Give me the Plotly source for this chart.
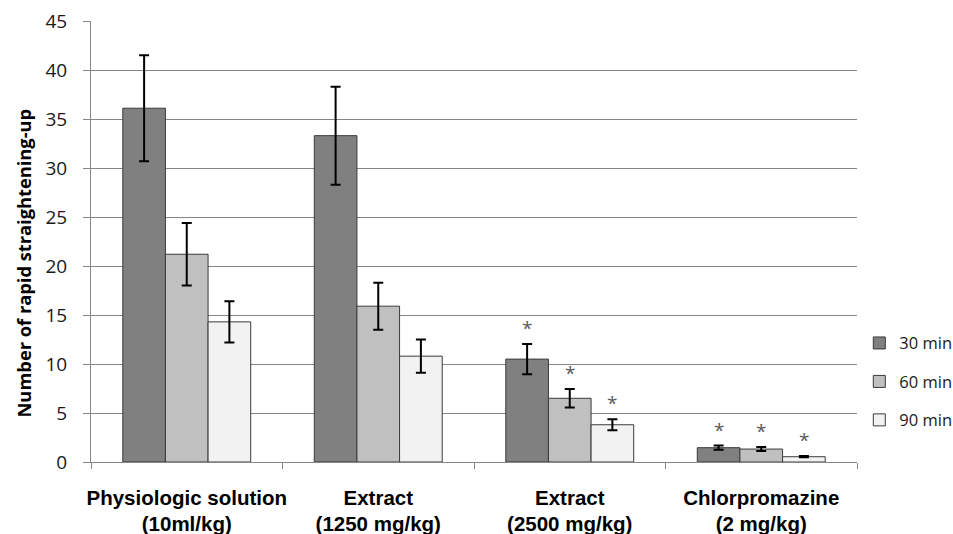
import plotly.graph_objects as go

# Treatment groups (two-line axis labels)
groups = [
    "Physiologic solution<br>(10ml/kg)",
    "Extract<br>(1250 mg/kg)",
    "Extract<br>(2500 mg/kg)",
    "Chlorpromazine<br>(2 mg/kg)",
]

# Mean number of rapid straightening-up at each time point
mean_30 = [36.1, 33.3, 10.5, 1.46]
mean_60 = [21.2, 15.9, 6.5, 1.32]
mean_90 = [14.3, 10.8, 3.8, 0.54]

# Error (SEM)
err_30 = [5.4, 5.0, 1.55, 0.22]
err_60 = [3.2, 2.4, 0.95, 0.2]
err_90 = [2.1, 1.7, 0.55, 0.06]

# Significance marks (True = "*")
sig_30 = [False, False, True, True]
sig_60 = [False, False, True, True]
sig_90 = [False, False, True, True]

series_names = ["30 min", "60 min", "90 min"]
series_colors = ["#808080", "#c0c0c0", "#f2f2f2"]

means = [mean_30, mean_60, mean_90]
errs = [err_30, err_60, err_90]
sigs = [sig_30, sig_60, sig_90]

y_title = "Number of rapid straightening-up"

TICK_FONT = "Open Sans"
LABEL_FONT = "Liberation Sans, Arial"

W, H = 953, 534
margin = dict(l=91, r=96, t=21, b=72, autoexpand=False)
bargap = 0.332

fig = go.Figure()
for i in range(3):
    fig.add_trace(go.Bar(
        x=groups,
        y=means[i],
        name=series_names[i],
        legendgroup=series_names[i],
        marker=dict(color=series_colors[i], line=dict(color="#3a3a3a", width=1)),
        error_y=dict(type="data", array=errs[i], visible=True,
                     color="black", thickness=2, width=5),
    ))

# Asterisks above the error bars of significant bars
plot_w = W - margin["l"] - margin["r"]
cat_w = plot_w / len(groups)
bar_w = cat_w * (1 - bargap) / 3
annotations = []
for i in range(3):
    for j, g in enumerate(groups):
        if sigs[i][j]:
            annotations.append(dict(
                x=g, y=means[i][j] + errs[i][j], xref="x", yref="y",
                text="*", showarrow=False,
                xshift=(i - 1) * bar_w, yshift=16,
                yanchor="middle",
                font=dict(family=TICK_FONT, size=19, color="#5a5a5a"),
            ))

# Vertical axis title
annotations.append(dict(
    x=0, y=0.5, xref="paper", yref="paper",
    xanchor="center", yanchor="middle",
    xshift=-68, yshift=-22, textangle=-90, showarrow=False,
    text=y_title,
    font=dict(family=TICK_FONT, size=18.3, color="black", weight="bold"),
))

fig.update_layout(
    width=W, height=H,
    margin=margin,
    paper_bgcolor="white",
    plot_bgcolor="white",
    barmode="group",
    bargap=bargap,
    bargroupgap=0,
    showlegend=True,
    legend=dict(
        x=1.003, xanchor="left", y=0.182, yanchor="middle",
        font=dict(family=TICK_FONT, size=16.5, color="#1a1a1a"),
        tracegroupgap=14,
        itemwidth=30,
        bgcolor="rgba(0,0,0,0)",
    ),
    annotations=annotations,
    xaxis=dict(
        type="category",
        showgrid=False,
        showline=True, linecolor="#868686", linewidth=1,
        ticks="outside", tickson="boundaries", ticklen=6, tickcolor="#868686",
        tickfont=dict(family=LABEL_FONT, size=20.5, color="black", weight="bold"),
        tickangle=0,
        ticklabelstandoff=17,
        automargin=False,
    ),
    yaxis=dict(
        range=[0, 45],
        tickmode="array",
        tickvals=[0, 5, 10, 15, 20, 25, 30, 35, 40, 45],
        showgrid=True, gridcolor="#868686", gridwidth=1,
        showline=True, linecolor="#868686", linewidth=1,
        ticks="outside", ticklen=7, tickcolor="#868686",
        tickfont=dict(family=TICK_FONT, size=19, color="#1a1a1a"),
        ticklabelstandoff=12,
        zeroline=False,
        automargin=False,
    ),
)

fig.write_html("out.html")
